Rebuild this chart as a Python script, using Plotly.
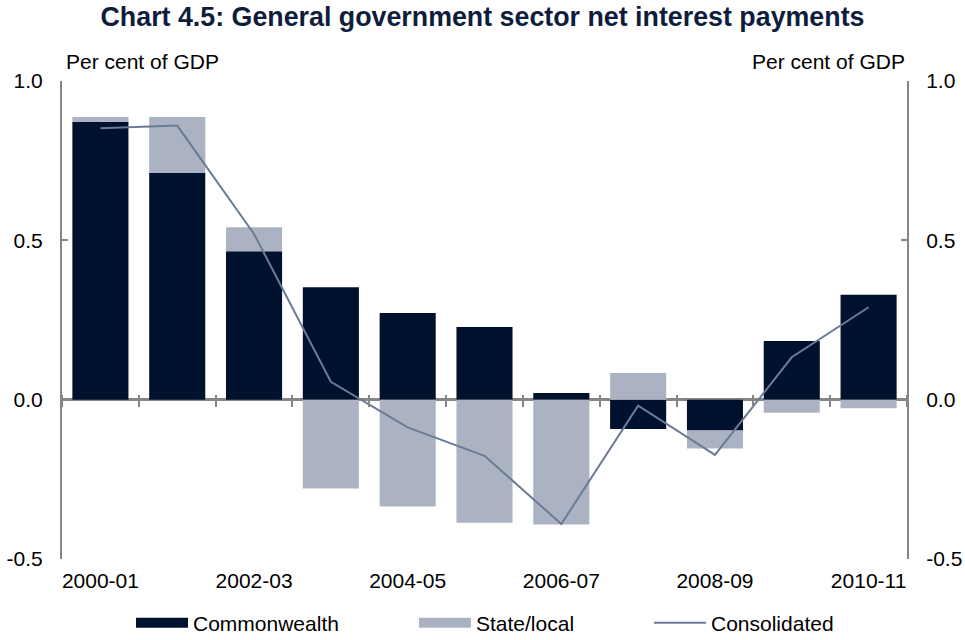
import plotly.graph_objects as go

years = ["2000-01", "2001-02", "2002-03", "2003-04", "2004-05", "2005-06",
         "2006-07", "2007-08", "2008-09", "2009-10", "2010-11"]
commonwealth = [0.872, 0.711, 0.466, 0.353, 0.272, 0.228, 0.021, -0.092, -0.097, 0.184, 0.329]
state_local = [0.015, 0.176, 0.075, -0.279, -0.335, -0.386, -0.392, 0.084, -0.056, -0.041, -0.027]
consolidated = [0.852, 0.860, 0.520, 0.056, -0.087, -0.176, -0.390, -0.019, -0.173, 0.133, 0.290]
label_years = years[::2]
y_ticks = [-0.5, 0.0, 0.5, 1.0]
y_tick_text = ["%.1f" % v for v in y_ticks]

DARK = "#00112E"
LIGHT = "#ABB3C3"
LINE = "#6B7B96"
GREY = "#868686"
FONT = "Liberation Sans, Arial, sans-serif"
FS = 21

fig = go.Figure()
fig.add_trace(go.Bar(x=years, y=commonwealth, name="Commonwealth", showlegend=False,
                     marker=dict(color=DARK, line=dict(width=0))))
fig.add_trace(go.Bar(x=years, y=state_local, name="State/local", showlegend=False,
                     marker=dict(color=LIGHT, line=dict(width=0))))
fig.add_trace(go.Scatter(x=years, y=consolidated, name="Consolidated", mode="lines",
                         line=dict(color=LINE, width=2), xaxis="x2", yaxis="y2",
                         legend="legend3"))
# legend swatches for the bar series
fig.add_trace(go.Scatter(x=[None], y=[None], name="Commonwealth", mode="lines",
                         line=dict(color=DARK, width=12), legend="legend"))
fig.add_trace(go.Scatter(x=[None], y=[None], name="State/local", mode="lines",
                         line=dict(color=LIGHT, width=12), legend="legend2"))

H = 640 - 81 - 81
zero_pos = (0 - y_ticks[0]) / (y_ticks[-1] - y_ticks[0])

legend_common = dict(orientation="h", yanchor="middle", y=-0.134, xanchor="left",
                     font=dict(family=FONT, size=FS, color="#000000"),
                     bgcolor="rgba(0,0,0,0)", itemwidth=52)

fig.update_layout(
    width=965, height=640,
    margin=dict(l=62, r=58, t=81, b=81, autoexpand=False),
    paper_bgcolor="white", plot_bgcolor="white",
    showlegend=True,
    barmode="relative", bargap=0.27,
    font=dict(family=FONT, size=FS, color="#000000"),
    title=dict(text="<b>Chart 4.5: General government sector net interest payments</b>",
               x=0.5, xanchor="center", y=1 - 17 / 640, yanchor="middle",
               font=dict(family=FONT, size=26.8, color="#0F1D3D")),
    xaxis=dict(type="category", range=[-0.5, len(years) - 0.5],
               tickvals=label_years, ticktext=label_years,
               showline=False, ticks="", showgrid=False, zeroline=False,
               ticklabelstandoff=7),
    xaxis2=dict(type="category", overlaying="x", anchor="free",
                position=zero_pos + 6 / H, range=[-0.5, len(years) - 0.5],
                tickson="boundaries", showticklabels=False, ticks="outside",
                ticklen=12, tickwidth=2, tickcolor=GREY, showline=False,
                showgrid=False, zeroline=False),
    yaxis=dict(range=[y_ticks[0], y_ticks[-1]], tickvals=y_ticks, ticktext=y_tick_text,
               showline=True, linecolor=GREY, linewidth=2, ticks="inside", ticklen=6,
               tickwidth=2, tickcolor=GREY, showgrid=False, zeroline=False,
               ticklabelstandoff=13),
    yaxis2=dict(overlaying="y", side="right", range=[y_ticks[0], y_ticks[-1]],
                tickvals=y_ticks, ticktext=y_tick_text,
                showline=True, linecolor=GREY, linewidth=2, ticks="inside", ticklen=6,
                tickwidth=2, tickcolor=GREY, showgrid=False,
                zeroline=True, zerolinecolor=GREY, zerolinewidth=2.5,
                ticklabelstandoff=13),
    legend=dict(legend_common, x=(131 - 62) / 845),
    legend2=dict(legend_common, x=(414 - 62) / 845),
    legend3=dict(legend_common, x=(649 - 62) / 845),
    annotations=[
        dict(text="Per cent of GDP", xref="paper", yref="paper", x=0.002, y=1 + 19 / H,
             xanchor="left", yanchor="middle", showarrow=False, font=dict(size=FS)),
        dict(text="Per cent of GDP", xref="paper", yref="paper", x=1.0, y=1 + 19 / H,
             xanchor="right", yanchor="middle", showarrow=False, font=dict(size=FS)),
    ],
)

fig.write_html("out.html", config={"displayModeBar": False},
               post_script="document.body.style.margin='0';document.body.style.overflow='hidden';")
